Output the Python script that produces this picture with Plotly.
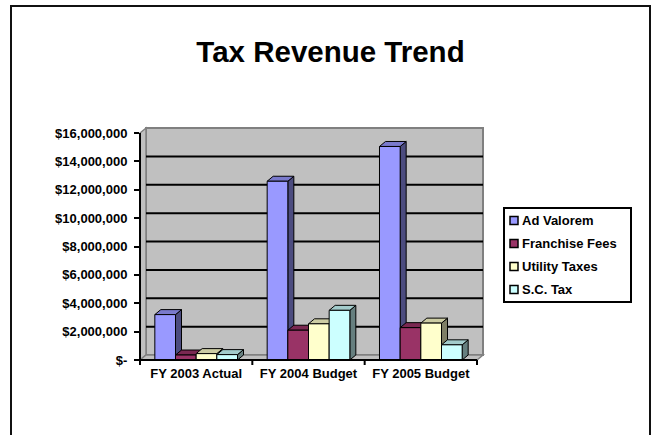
import plotly.graph_objects as go

# ---- data ----
categories = ["FY 2003 Actual", "FY 2004 Budget", "FY 2005 Budget"]
series_names = ["Ad Valorem", "Franchise Fees", "Utility Taxes", "S.C. Tax"]
ad_valorem = [3200000, 12600000, 15050000]
franchise_fees = [350000, 2100000, 2280000]
utility_taxes = [450000, 2550000, 2600000]
sc_tax = [380000, 3500000, 1070000]
y_tick_values = [0, 2000000, 4000000, 6000000, 8000000,
                 10000000, 12000000, 14000000, 16000000]
y_tick_labels = ["$-", "$2,000,000", "$4,000,000", "$6,000,000", "$8,000,000",
                 "$10,000,000", "$12,000,000", "$14,000,000", "$16,000,000"]
series_colors = ["#9999FF", "#993366", "#FFFFCC", "#CCFFFF"]

series_values = [ad_valorem, franchise_fees, utility_taxes, sc_tax]

# ---- page geometry ----
FIG_W, FIG_H = 653, 435
M_L, M_R, M_T, M_B = 140, 170, 128, 75
PLOT_W = FIG_W - M_L - M_R
PLOT_H = FIG_H - M_T - M_B

FONT = "Arial, Liberation Sans, sans-serif"

# 3-D depth of the chart box, in pixels, converted to data units
Y_MAX = y_tick_values[-1]
DEPTH_PX_X, DEPTH_PX_Y = 6, 5
CAT_PX = (PLOT_W - DEPTH_PX_X) / len(categories)
DX = DEPTH_PX_X / CAT_PX
Y_PX = (PLOT_H - DEPTH_PX_Y) / Y_MAX
DY = DEPTH_PX_Y / Y_PX

X_LO, X_HI = -0.5, len(categories) - 0.5
X_RANGE = [X_LO, X_HI + DX]
Y_RANGE = [0, Y_MAX + DY]

BAR_W = 0.184
N_SER = len(series_names)


def xp(x):
    """data x -> paper fraction"""
    return (x - X_RANGE[0]) / (X_RANGE[1] - X_RANGE[0])


def yp(y):
    """data y -> paper fraction"""
    return (y - Y_RANGE[0]) / (Y_RANGE[1] - Y_RANGE[0])


def pxp(px):
    """page pixel x -> paper fraction"""
    return (px - M_L) / PLOT_W


def pyp(py):
    """page pixel y -> paper fraction"""
    return (FIG_H - M_B - py) / PLOT_H


def shade(hex_color, f):
    h = hex_color.lstrip("#")
    r, g, b = (int(h[k:k + 2], 16) for k in (0, 2, 4))
    return "#%02x%02x%02x" % (int(r * f), int(g * f), int(b * f))


def poly_path(points):
    return "M " + " L ".join(f"{xp(x):.6f},{yp(y):.6f}" for x, y in points) + " Z"


fig = go.Figure()

# ---- 3-D columns: side, top and front faces per series ----
for j, (name, vals, color) in enumerate(zip(series_names, series_values, series_colors)):
    side_x, side_y, top_x, top_y, front_x, front_y = [], [], [], [], [], []
    for i, v in enumerate(vals):
        x0 = i - (N_SER / 2) * BAR_W + j * BAR_W
        x1 = x0 + BAR_W
        front_x += [x0, x1, x1, x0, x0, None]
        front_y += [0, 0, v, v, 0, None]
        top_x += [x0, x1, x1 + DX, x0 + DX, x0, None]
        top_y += [v, v, v + DY, v + DY, v, None]
        side_x += [x1, x1 + DX, x1 + DX, x1, x1, None]
        side_y += [0, DY, v + DY, v, 0, None]
    for fx, fy, fc in ((side_x, side_y, shade(color, 0.5)),
                       (top_x, top_y, shade(color, 0.8)),
                       (front_x, front_y, color)):
        fig.add_trace(go.Scatter(
            x=fx, y=fy, mode="lines", fill="toself", fillcolor=fc,
            line=dict(color="black", width=1), name=name,
            hoverinfo="skip", showlegend=False))

shapes = []
WALL = "#C0C0C0"
WALL_EDGE = "#808080"

# back wall
shapes.append(dict(type="path", xref="paper", yref="paper", layer="below",
                   path=poly_path([(X_LO + DX, DY), (X_HI + DX, DY),
                                   (X_HI + DX, Y_MAX + DY), (X_LO + DX, Y_MAX + DY)]),
                   fillcolor=WALL, line=dict(color=WALL_EDGE, width=2)))
# side wall
shapes.append(dict(type="path", xref="paper", yref="paper", layer="below",
                   path=poly_path([(X_LO, 0), (X_LO + DX, DY),
                                   (X_LO + DX, Y_MAX + DY), (X_LO, Y_MAX)]),
                   fillcolor=WALL, line=dict(color=WALL_EDGE, width=1.5)))
# floor
shapes.append(dict(type="path", xref="paper", yref="paper", layer="below",
                   path=poly_path([(X_LO, 0), (X_HI, 0), (X_HI + DX, DY), (X_LO + DX, DY)]),
                   fillcolor=WALL, line=dict(color=WALL_EDGE, width=1.5)))
# gridlines on the back wall
for v in y_tick_values[1:-1]:
    shapes.append(dict(type="line", xref="paper", yref="paper", layer="below",
                       x0=xp(X_LO + DX), x1=xp(X_HI + DX), y0=yp(v + DY), y1=yp(v + DY),
                       line=dict(color="black", width=2)))
# value axis line and category axis line
shapes.append(dict(type="line", xref="paper", yref="paper",
                   x0=xp(X_LO), x1=xp(X_LO), y0=yp(0), y1=yp(Y_MAX),
                   line=dict(color="black", width=2)))
shapes.append(dict(type="line", xref="paper", yref="paper",
                   x0=xp(X_LO), x1=xp(X_HI), y0=yp(0), y1=yp(0),
                   line=dict(color="black", width=2)))
# category boundary ticks
for k in range(len(categories) + 1):
    bx = xp(X_LO + k)
    shapes.append(dict(type="line", xref="paper", yref="paper",
                       x0=bx, x1=bx, y0=yp(0), y1=yp(0) - 5 / PLOT_H,
                       line=dict(color="black", width=2)))

# ---- legend box ----
LEG_L, LEG_T, LEG_R, LEG_B = 504, 208, 631, 302
LEG_ROW0, LEG_ROW_STEP = 220.5, 23
shapes.append(dict(type="rect", xref="paper", yref="paper",
                   x0=pxp(LEG_L), x1=pxp(LEG_R), y0=pyp(LEG_B), y1=pyp(LEG_T),
                   fillcolor="white", line=dict(color="black", width=2)))
annotations = []
for k, (name, color) in enumerate(zip(series_names, series_colors)):
    cy = LEG_ROW0 + k * LEG_ROW_STEP
    shapes.append(dict(type="rect", xref="paper", yref="paper",
                       x0=pxp(510), x1=pxp(518), y0=pyp(cy + 4), y1=pyp(cy - 4),
                       fillcolor=color, line=dict(color="black", width=1.5)))
    annotations.append(dict(xref="paper", yref="paper", x=pxp(520), y=pyp(cy),
                            xanchor="left", yanchor="middle", text=name, showarrow=False,
                            font=dict(family=FONT, size=13, color="black", weight="bold")))

# ---- outer chart frame ----
shapes.append(dict(type="rect", xref="paper", yref="paper",
                   x0=pxp(11), x1=pxp(650), y0=pyp(450), y1=pyp(6),
                   line=dict(color="#111111", width=2), fillcolor="rgba(0,0,0,0)"))

fig.update_layout(
    width=FIG_W, height=FIG_H,
    margin=dict(l=M_L, r=M_R, t=M_T, b=M_B, pad=0),
    paper_bgcolor="white", plot_bgcolor="white",
    showlegend=False,
    title=dict(text="Tax Revenue Trend", x=330.5 / FIG_W, y=1 - 52 / FIG_H,
               xanchor="center", yanchor="middle",
               font=dict(family=FONT, size=29.5, color="black", weight="bold")),
    xaxis=dict(range=X_RANGE, tickmode="array", tickvals=list(range(len(categories))),
               ticktext=categories, ticks="", showgrid=False, zeroline=False,
               showline=False, fixedrange=True, ticklabelstandoff=4,
               tickfont=dict(family=FONT, size=13, color="black", weight="bold")),
    yaxis=dict(range=Y_RANGE, tickmode="array", tickvals=y_tick_values,
               ticktext=y_tick_labels, ticks="outside", ticklen=5, tickwidth=2,
               tickcolor="black", showgrid=False, zeroline=False, showline=False,
               fixedrange=True, ticklabelstandoff=4,
               tickfont=dict(family=FONT, size=13, color="black", weight="bold")),
    shapes=shapes,
    annotations=annotations,
)

fig.write_html("out.html")
